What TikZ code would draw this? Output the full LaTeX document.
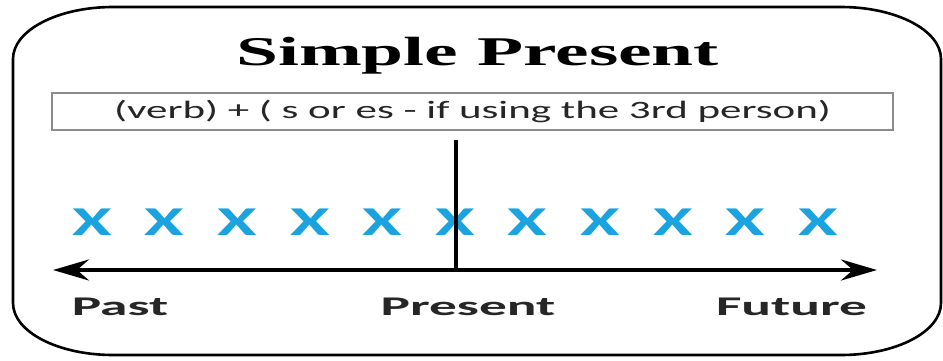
\documentclass[tikz,border=0pt]{standalone}
\usepackage{fontspec}
\usepackage{graphicx}
\usetikzlibrary{arrows.meta,positioning}
\setmainfont{Carlito}
\newfontfamily\headfont{Liberation Serif}
\definecolor{xblue}{HTML}{1BA3E0}
\definecolor{boxgray}{HTML}{8C8C8C}
\newcommand{\widen}[2]{\scalebox{#1}[1]{#2}}

\begin{document}
\begin{tikzpicture}[x=1pt,y=1pt,
  card/.style={line width=2.6pt,draw=black},
  heading/.style={font=\headfont\bfseries\fontsize{40.8}{42}\selectfont,
    anchor=base,inner sep=0pt},
  formula/.style={draw=boxgray,line width=1.4pt,minimum width=841pt,
    minimum height=37pt,inner sep=0pt,font=\fontsize{25}{26}\selectfont,text=black!85},
  xsign/.style={font=\bfseries\fontsize{41}{42}\selectfont,text=xblue,inner sep=0pt},
  timeline/.style={line width=4pt,
    {Stealth[length=36pt,width=21pt,inset=12pt]}-{Stealth[length=36pt,width=21pt,inset=12pt]}},
  nowline/.style={line width=3.2pt},
  tense/.style={font=\bfseries\fontsize{27}{28}\selectfont,text=black!85,
    anchor=base,inner sep=0pt}
]
\useasboundingbox (0,0) rectangle (943,360);
\draw[card] (13,301) -- (13,57) arc[start angle=180,end angle=270,x radius=100,y radius=52]
  -- (841,5) arc[start angle=270,end angle=360,x radius=100,y radius=52]
  -- (941,301) arc[start angle=0,end angle=90,x radius=100,y radius=52]
  -- (113,353) arc[start angle=90,end angle=180,x radius=100,y radius=52] -- cycle;
\node[heading] (title) at (477.5,295) {\widen{1.85}{Simple Present}};
\node[formula] (rule) at (472.5,248.5)
  {\widen{1.72}{(verb) + ( s or es - if using the 3rd person)}};
\foreach \i in {0,...,10}
  \node[xsign] (x\i) at ({92+72.6*\i},138) {\widen{1.75}{X}};
\coordinate (pastend) at (53,90);
\coordinate (futureend) at (877,90);
\coordinate (now) at (456,220);
\coordinate (nowfoot) at (456,90);
\draw[timeline] (pastend) -- (futureend);
\draw[nowline] (now) -- (nowfoot);
\node[tense] (past) at (120,45) {\widen{2.05}{Past}};
\node[tense] (present) at (468,45) {\widen{2.05}{Present}};
\node[tense] (future) at (791.5,45) {\widen{2.05}{Future}};
\end{tikzpicture}
\end{document}
